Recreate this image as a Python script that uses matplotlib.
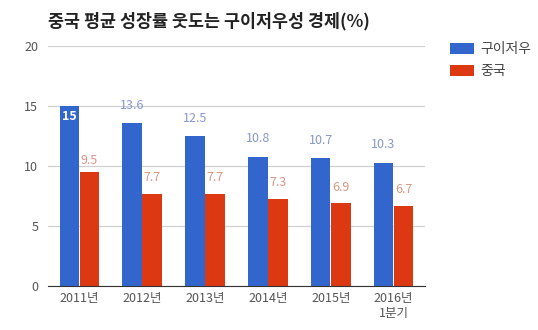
import numpy as np
import matplotlib
matplotlib.use("Agg")
from matplotlib import pyplot as plt

plt.rcParams['font.family'] = ['Noto Sans CJK KR', 'DejaVu Sans']

categories = ["2011년", "2012년", "2013년", "2014년", "2015년", "2016년\n1분기"]
guizhou = [15, 13.6, 12.5, 10.8, 10.7, 10.3]
china = [9.5, 7.7, 7.7, 7.3, 6.9, 6.7]
series_names = ["구이저우", "중국"]
title = "중국 평균 성장률 웃도는 구이저우성 경제(%)"

blue = "#3366cc"
red = "#dc3912"

fig = plt.figure(figsize=(5.38, 3.3), dpi=100)
ax = fig.add_axes([0.089, 0.133, 0.701, 0.727])

x = np.arange(len(categories))
w = 0.31
b1 = ax.bar(x - w / 2 - 0.005, guizhou, w, color=blue, label=series_names[0], zorder=3)
b2 = ax.bar(x + w / 2 + 0.005, china, w, color=red, label=series_names[1], zorder=3)

for rect, v in zip(b1, guizhou):
    cx = rect.get_x() + rect.get_width() / 2
    if v >= 15:
        ax.annotate("{:g}".format(v), (cx, v), xytext=(0, -3), textcoords="offset points",
                    ha="center", va="top", fontsize=9, color="white", fontweight="bold", zorder=4)
    else:
        ax.annotate("{:g}".format(v), (cx, v), xytext=(0, 8), textcoords="offset points",
                    ha="center", va="bottom", fontsize=9, color="#8797cc", zorder=4)
for rect, v in zip(b2, china):
    cx = rect.get_x() + rect.get_width() / 2
    off = 4 if v > 9 else 7
    ax.annotate("{:g}".format(v), (cx, v), xytext=(0, off), textcoords="offset points",
                ha="center", va="bottom", fontsize=9, color="#da9584", zorder=4)

ax.set_ylim(0, 20)
ax.set_yticks([0, 5, 10, 15, 20])
ax.set_xlim(-0.5, len(categories) - 0.5)
ax.set_xticks(x)
ax.set_xticklabels(categories)
ax.tick_params(length=0, labelsize=9, colors="#555555")
ax.tick_params(axis="y", pad=7)
ax.tick_params(axis="x", pad=4)
ax.grid(axis="y", color="#d0d0d0", linewidth=0.9, zorder=0)
for s in ["top", "right", "left"]:
    ax.spines[s].set_visible(False)
ax.spines["bottom"].set_color("#333333")
ax.spines["bottom"].set_zorder(5)

fig.text(0.089, 0.935, title, fontsize=12.5, fontweight="bold", color="#222222", va="center")

ax.legend(loc="upper left", bbox_to_anchor=(450 / 538, 1 - 42 / 330), bbox_transform=fig.transFigure,
          frameon=False, fontsize=10, borderpad=0, borderaxespad=0,
          handlelength=1.73, handleheight=0.86, labelspacing=0.58, handletextpad=0.43,
          labelcolor="#444444")

fig.savefig("out.png", dpi=100)
